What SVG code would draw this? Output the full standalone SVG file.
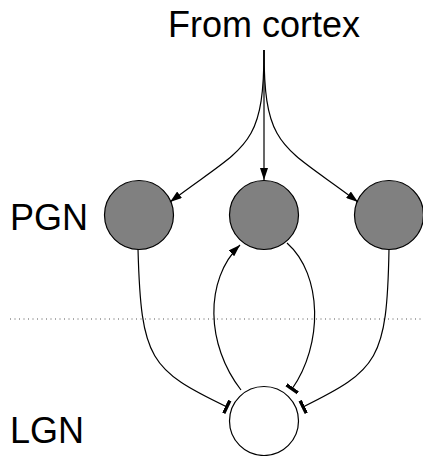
<svg xmlns="http://www.w3.org/2000/svg" width="423" height="456" viewBox="0 0 423 456">
<style>
text{font-family:"Liberation Sans",Arial,sans-serif;font-size:36px;fill:#000}
.pgn{fill:#808080;stroke:#000;stroke-width:1.2}
.lgn{fill:#fff;stroke:#000;stroke-width:1.2}
.c{fill:none;stroke:#000;stroke-width:1.2}
</style>
<defs>
<marker id="arr" viewBox="0 0 12 8" refX="12" refY="4" markerWidth="12" markerHeight="8" markerUnits="userSpaceOnUse" orient="auto">
<path d="M0,0 L12,4 L0,8 z" fill="#000"/>
</marker>
<marker id="bar" viewBox="0 0 4 14" refX="2" refY="7" markerWidth="4" markerHeight="14" markerUnits="userSpaceOnUse" orient="auto">
<rect x="0" y="0" width="3.5" height="14" fill="#000"/>
</marker>
</defs>
<line x1="10" y1="319" x2="423" y2="319" stroke="#555" stroke-width="1" stroke-dasharray="1 3.5"/>
<text x="264" y="37" text-anchor="middle">From cortex</text>
<text x="10" y="230">PGN</text>
<text x="10" y="443">LGN</text>
<g id="pgn1"><circle class="pgn" cx="139" cy="215" r="34.5"/></g>
<g id="pgn2"><circle class="pgn" cx="264" cy="215" r="34.5"/></g>
<g id="pgn3"><circle class="pgn" cx="389" cy="215" r="34.5"/></g>
<g id="lgn"><circle class="lgn" cx="264" cy="421" r="34.5"/></g>
<g id="connectors">
<path class="c" d="M264,50 L264,180" marker-end="url(#arr)"/>
<path class="c" d="M264,50 C264,150 245,145 170,202" marker-end="url(#arr)"/>
<path class="c" d="M264,50 C264,150 283,145 358,202" marker-end="url(#arr)"/>
<path class="c" d="M241,390 C206,345 204,280 240,245" marker-end="url(#arr)"/>
<path class="c" d="M138,249 C141,360 150,370 227,407" marker-end="url(#bar)"/>
<path class="c" d="M389,249 C387,360 378,370 303,407" marker-end="url(#bar)"/>
<path class="c" d="M287,243 C323,275 323,345 292,389" marker-end="url(#bar)"/>
</g>
</svg>
